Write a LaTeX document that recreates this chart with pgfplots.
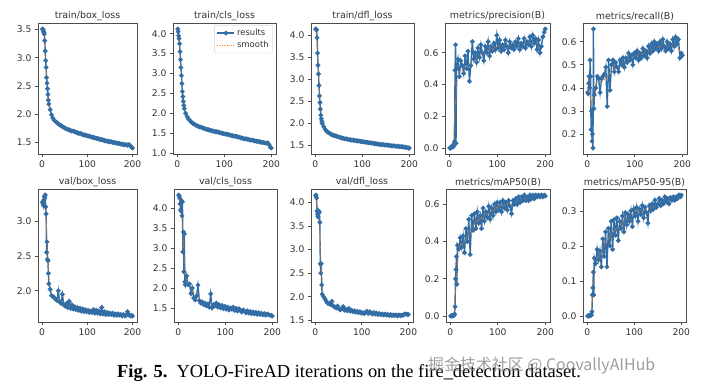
\documentclass[border=0pt]{standalone}
\usepackage{pgfplots}
\pgfplotsset{compat=1.18}
\usepackage{pgfplotstable}
\usepackage{fontspec}
\newfontfamily\djv{DejaVu Sans}
\newfontfamily\tnr{Liberation Serif}
\newfontfamily\cjk{Noto Sans CJK SC}
\definecolor{tabblue}{HTML}{326EA5}
\definecolor{taborange}{HTML}{FF7F0E}
\definecolor{ticktext}{HTML}{333333}

\pgfplotstableread{
x bl cl dl pr rc
1 3.51 4.12 4.15 0.000 0.38
2 3.50 4.05 4.14 0.000 0.375
3 3.47 3.95 4.13 0.002 0.42
4 3.45 3.88 3.95 0.003 0.45
5 3.42 3.75 3.60 0.005 0.40
6 3.30 3.55 3.32 0.010 0.52
7 3.12 3.35 3.12 0.015 0.45
8 2.95 3.15 2.86 0.020 0.22
9 2.83 2.95 2.62 0.010 0.30
10 2.65 2.75 2.47 0.025 0.17
11 2.55 2.55 2.32 0.040 0.20
12 2.45 2.42 2.18 0.490 0.14
13 2.35 2.30 2.10 0.650 0.655
14 2.25 2.20 2.04 0.030 0.31
15 2.18 2.12 1.99 0.500 0.37
18 2.08 2.00 1.92 0.560 0.40
21 1.99 1.92 1.86 0.450 0.45
24 1.93 1.86 1.82 0.550 0.44
27 1.89 1.82 1.79 0.520 0.38
30 1.87 1.78 1.77 0.470 0.44
33 1.85 1.75 1.75 0.580 0.45
36 1.83 1.73 1.73 0.500 0.46
39 1.81 1.71 1.72 0.610 0.49
42 1.80 1.69 1.71 0.420 0.32
45 1.78 1.67 1.70 0.520 0.52
48 1.77 1.66 1.69 0.670 0.39
51 1.75 1.65 1.68 0.560 0.50
54 1.74 1.64 1.67 0.600 0.52
57 1.73 1.62 1.66 0.540 0.47
60 1.72 1.61 1.65 0.630 0.51
63 1.71 1.60 1.64 0.570 0.49
66 1.70 1.59 1.64 0.650 0.47
69 1.70 1.58 1.63 0.600 0.52
72 1.69 1.57 1.62 0.550 0.50
75 1.68 1.56 1.62 0.640 0.53
78 1.67 1.55 1.61 0.600 0.49
81 1.66 1.54 1.61 0.670 0.53
84 1.66 1.54 1.60 0.580 0.51
87 1.65 1.53 1.60 0.640 0.55
90 1.64 1.52 1.59 0.610 0.52
93 1.63 1.51 1.59 0.660 0.54
96 1.63 1.50 1.58 0.620 0.50
99 1.62 1.49 1.58 0.710 0.55
102 1.61 1.48 1.57 0.630 0.53
105 1.61 1.48 1.57 0.680 0.56
108 1.60 1.47 1.56 0.610 0.52
111 1.59 1.46 1.56 0.650 0.55
114 1.59 1.45 1.55 0.620 0.53
117 1.58 1.44 1.55 0.680 0.57
120 1.57 1.43 1.54 0.640 0.54
123 1.57 1.43 1.54 0.600 0.56
126 1.56 1.42 1.53 0.670 0.53
129 1.55 1.41 1.53 0.630 0.58
132 1.55 1.40 1.52 0.650 0.55
135 1.54 1.39 1.52 0.620 0.59
138 1.53 1.38 1.51 0.670 0.56
141 1.53 1.37 1.51 0.640 0.60
144 1.52 1.36 1.51 0.690 0.57
147 1.52 1.36 1.50 0.620 0.59
150 1.51 1.35 1.50 0.660 0.56
153 1.51 1.34 1.50 0.640 0.60
156 1.50 1.33 1.49 0.690 0.57
159 1.50 1.33 1.49 0.630 0.61
162 1.49 1.32 1.48 0.670 0.58
165 1.49 1.31 1.48 0.650 0.56
168 1.48 1.30 1.48 0.700 0.60
171 1.48 1.30 1.47 0.640 0.57
174 1.47 1.29 1.47 0.710 0.59
177 1.47 1.28 1.47 0.660 0.56
180 1.46 1.27 1.46 0.690 0.61
183 1.46 1.27 1.46 0.620 0.58
186 1.46 1.26 1.46 0.680 0.62
189 1.45 1.25 1.45 0.600 0.59
192 1.46 1.26 1.45 0.640 0.61
195 1.44 1.22 1.44 0.700 0.53
198 1.41 1.15 1.43 0.730 0.55
200 1.40 1.13 1.43 0.750 0.54
}\toptab

\pgfplotstableread{
x vb vc vd ma mb
1 3.27 4.32 4.15 0.000 0.000
2 3.25 4.30 4.16 0.000 0.000
3 3.22 4.25 4.10 0.001 0.000
4 3.30 4.10 3.82 0.001 0.001
5 3.35 3.95 3.75 0.002 0.001
6 3.33 3.92 3.70 0.002 0.001
7 3.37 4.18 3.82 0.005 0.002
8 3.20 3.80 3.78 0.003 0.002
9 3.10 4.15 3.80 0.010 0.003
10 2.55 2.90 3.58 0.050 0.012
11 2.70 3.40 2.70 0.200 0.060
12 2.45 2.40 2.50 0.250 0.080
13 2.43 3.35 2.70 0.320 0.125
14 2.25 2.15 2.25 0.170 0.060
15 2.10 2.08 2.05 0.380 0.165
18 2.02 2.30 2.00 0.360 0.150
21 1.93 2.08 1.95 0.420 0.190
24 1.92 2.10 1.90 0.370 0.160
27 1.90 1.86 1.86 0.430 0.185
30 1.88 2.00 1.85 0.340 0.140
33 1.86 1.75 1.83 0.470 0.220
36 2.00 1.70 1.90 0.400 0.170
39 1.84 1.80 1.80 0.520 0.240
42 1.82 2.07 1.78 0.330 0.140
45 1.95 1.68 1.76 0.540 0.250
48 1.80 1.62 1.80 0.460 0.200
51 1.78 1.65 1.74 0.550 0.270
54 1.82 1.58 1.72 0.470 0.190
57 1.76 1.62 1.75 0.560 0.275
60 1.85 1.55 1.79 0.500 0.230
63 1.75 1.60 1.71 0.540 0.280
66 1.80 1.52 1.73 0.470 0.215
69 1.74 1.85 1.70 0.580 0.270
72 1.77 1.50 1.75 0.510 0.250
75 1.73 1.58 1.69 0.560 0.285
78 1.76 1.55 1.71 0.530 0.240
81 1.72 1.62 1.68 0.590 0.295
84 1.75 1.52 1.70 0.520 0.260
87 1.71 1.58 1.67 0.580 0.290
90 1.74 1.50 1.69 0.540 0.270
93 1.70 1.56 1.66 0.600 0.300
96 1.73 1.48 1.68 0.560 0.255
99 1.70 1.54 1.65 0.610 0.305
102 1.72 1.47 1.66 0.570 0.285
105 1.69 1.52 1.64 0.610 0.310
108 1.71 1.45 1.67 0.560 0.270
111 1.69 1.50 1.69 0.620 0.305
114 1.73 1.47 1.64 0.580 0.290
117 1.68 1.52 1.68 0.610 0.315
120 1.72 1.44 1.65 0.570 0.280
123 1.68 1.49 1.63 0.620 0.310
126 1.71 1.42 1.66 0.590 0.295
129 1.67 1.48 1.63 0.550 0.265
132 1.76 1.44 1.65 0.620 0.315
135 1.67 1.40 1.62 0.600 0.300
138 1.70 1.45 1.64 0.630 0.320
141 1.66 1.42 1.62 0.600 0.305
144 1.69 1.38 1.63 0.640 0.330
147 1.66 1.43 1.61 0.610 0.310
150 1.68 1.37 1.63 0.640 0.320
153 1.66 1.41 1.61 0.620 0.335
156 1.68 1.36 1.62 0.650 0.315
159 1.65 1.40 1.60 0.620 0.330
162 1.67 1.35 1.62 0.640 0.320
165 1.65 1.39 1.60 0.620 0.340
168 1.67 1.34 1.61 0.650 0.325
171 1.65 1.38 1.60 0.630 0.335
174 1.66 1.34 1.61 0.650 0.320
177 1.64 1.37 1.59 0.630 0.338
180 1.66 1.33 1.61 0.650 0.330
183 1.64 1.36 1.60 0.640 0.340
186 1.65 1.32 1.60 0.650 0.330
189 1.70 1.35 1.61 0.640 0.340
192 1.66 1.33 1.63 0.650 0.335
195 1.64 1.32 1.63 0.640 0.345
198 1.65 1.31 1.62 0.650 0.340
200 1.64 1.30 1.62 0.645 0.345
}\bottab

\pgfplotstableread{
x bl cl dl pr rc vb vc vd ma mb
1 3.48 4.05 4.10 0.00 0.40 3.26 4.28 4.12 0.00 0.000
4 3.42 3.85 3.90 0.00 0.43 3.32 4.05 3.85 0.00 0.000
8 2.95 3.15 2.90 0.02 0.33 3.20 3.70 3.70 0.01 0.002
12 2.45 2.45 2.20 0.25 0.35 2.55 2.90 2.90 0.17 0.060
16 2.15 2.08 2.00 0.40 0.38 2.15 2.30 2.15 0.30 0.130
20 2.02 1.95 1.90 0.48 0.42 1.97 2.12 1.97 0.38 0.160
30 1.87 1.78 1.77 0.50 0.43 1.90 1.90 1.85 0.40 0.180
40 1.81 1.70 1.72 0.52 0.44 1.87 1.82 1.81 0.45 0.210
55 1.74 1.63 1.67 0.57 0.49 1.79 1.63 1.75 0.51 0.240
70 1.70 1.57 1.63 0.59 0.50 1.77 1.62 1.72 0.53 0.260
85 1.65 1.53 1.60 0.62 0.52 1.73 1.56 1.68 0.56 0.280
100 1.62 1.48 1.57 0.64 0.54 1.71 1.50 1.65 0.59 0.300
120 1.57 1.43 1.54 0.64 0.55 1.70 1.47 1.65 0.60 0.300
140 1.53 1.37 1.51 0.65 0.57 1.68 1.41 1.62 0.61 0.310
160 1.50 1.32 1.49 0.66 0.58 1.66 1.37 1.61 0.63 0.325
180 1.46 1.27 1.46 0.66 0.59 1.66 1.34 1.60 0.64 0.332
200 1.42 1.17 1.43 0.71 0.55 1.65 1.31 1.62 0.645 0.342
}\smtab

\pgfplotsset{
  yoloax/.style={
    scale only axis,
    anchor=south west,
    axis line style={black!70, line width=0.6bp},
    tick style={black!70, line width=0.6bp},
    tick align=outside,
    major tick length=3bp,
    tick pos=left,
    xtick={0,100,200},
    enlarge x limits=0.05,
    enlarge y limits=0.05,
    scaled y ticks=false,
    /pgf/number format/assume math mode=true,
    tick label style={font=\djv\fontsize{9.2}{11}\selectfont, text=ticktext},
    yticklabel style={/pgf/number format/fixed, /pgf/number format/fixed zerofill, /pgf/number format/precision=1},
    xticklabel style={/pgf/number format/fixed, /pgf/number format/precision=0},
    title style={font=\djv\fontsize{9.5}{11}\selectfont, text=ticktext, yshift=-7bp},
    clip=false,
  },
  res/.style={tabblue, line width=1.4bp, mark=*, mark size=1.6bp, mark options={solid, fill=tabblue, draw=tabblue}},
  smo/.style={taborange, line width=0.9bp, dash pattern=on 0.9bp off 1.4bp, no marks},
}

\begin{document}
\begin{tikzpicture}
\path[use as bounding box] (0,0) rectangle (720bp,389bp);

% ---------- top row ----------
\begin{axis}[yoloax, at={(38bp,235bp)}, width=99bp, height=131bp,
  title={train/box\_loss}, ytick={1.5,2,2.5,3,3.5}]
  \addplot[res] table[x=x,y=bl]{\toptab};
  \addplot[smo] table[x=x,y=bl]{\smtab};
\end{axis}

\begin{axis}[yoloax, at={(173bp,235bp)}, width=103bp, height=131bp,
  title={train/cls\_loss}, ytick={1,1.5,2,2.5,3,3.5,4},
  legend style={at={(0.97,0.985)}, anchor=north east, draw=black!20, rounded corners=1.5bp,
    fill=white, font=\djv\fontsize{8.5}{9}\selectfont, text=ticktext,
    inner sep=2bp, row sep=0bp, legend cell align=left},
]
  \addplot[res] table[x=x,y=cl]{\toptab};
  \addlegendentry{results}
  \addplot[smo] table[x=x,y=cl]{\smtab};
  \addlegendentry{smooth}
\end{axis}

\begin{axis}[yoloax, at={(311bp,235bp)}, width=103bp, height=131bp,
  title={train/dfl\_loss}, ytick={1.5,2,2.5,3,3.5,4}]
  \addplot[res] table[x=x,y=dl]{\toptab};
  \addplot[smo] table[x=x,y=dl]{\smtab};
\end{axis}

\begin{axis}[yoloax, at={(445bp,235bp)}, width=105bp, height=131bp,
  title={metrics/precision(B)}, ytick={0,0.2,0.4,0.6}]
  \addplot[res] table[x=x,y=pr]{\toptab};
  \addplot[smo] table[x=x,y=pr]{\smtab};
\end{axis}

\begin{axis}[yoloax, at={(583bp,235bp)}, width=104bp, height=131bp,
  title={metrics/recall(B)}, ytick={0.2,0.3,0.4,0.5,0.6}]
  \addplot[res] table[x=x,y=rc]{\toptab};
  \addplot[smo] table[x=x,y=rc]{\smtab};
\end{axis}

% ---------- bottom row ----------
\begin{axis}[yoloax, at={(38bp,67bp)}, width=99bp, height=133bp,
  title={val/box\_loss}, ytick={2,2.5,3}]
  \addplot[res] table[x=x,y=vb]{\bottab};
  \addplot[smo] table[x=x,y=vb]{\smtab};
\end{axis}

\begin{axis}[yoloax, at={(174bp,67bp)}, width=103bp, height=133bp,
  title={val/cls\_loss}, ytick={1.5,2,2.5,3,3.5,4}]
  \addplot[res] table[x=x,y=vc]{\bottab};
  \addplot[smo] table[x=x,y=vc]{\smtab};
\end{axis}

\begin{axis}[yoloax, at={(311bp,67bp)}, width=102bp, height=133bp,
  title={val/dfl\_loss}, ytick={1.5,2,2.5,3,3.5,4}]
  \addplot[res] table[x=x,y=vd]{\bottab};
  \addplot[smo] table[x=x,y=vd]{\smtab};
\end{axis}

\begin{axis}[yoloax, at={(446bp,67bp)}, width=104bp, height=133bp,
  title={metrics/mAP50(B)}, ytick={0,0.2,0.4,0.6}]
  \addplot[res] table[x=x,y=ma]{\bottab};
  \addplot[smo] table[x=x,y=ma]{\smtab};
\end{axis}

\begin{axis}[yoloax, at={(583bp,67bp)}, width=103bp, height=133bp,
  title={metrics/mAP50-95(B)}, ytick={0,0.1,0.2,0.3}]
  \addplot[res] table[x=x,y=mb]{\bottab};
  \addplot[smo] table[x=x,y=mb]{\smtab};
\end{axis}

% ---------- caption and watermark ----------
\node[anchor=base west, inner sep=0pt, font=\tnr\fontsize{18.5}{20}\selectfont]
  at (117bp,12bp) {\textbf{Fig. 5.}\ \ YOLO-FireAD iterations on the fire\_detection dataset.};
\node[anchor=base west, inner sep=0pt, font=\cjk\fontsize{16}{18}\selectfont, text=black!45, text opacity=0.85]
  at (428bp,19bp) {掘金技术社区 @ CoovallyAIHub};
\end{tikzpicture}
\end{document}
